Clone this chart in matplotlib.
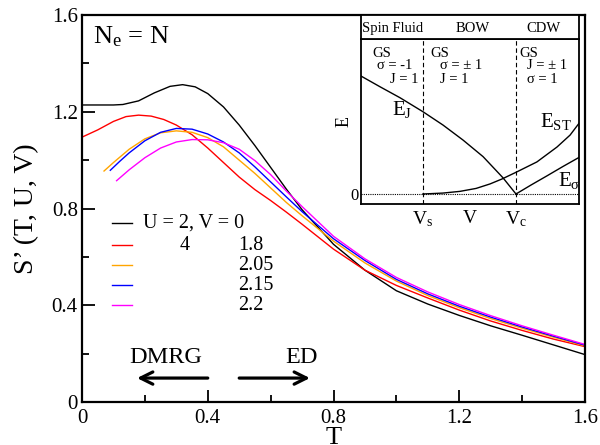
import matplotlib
matplotlib.use("Agg")
import matplotlib.pyplot as plt
from matplotlib.lines import Line2D
from matplotlib.ticker import MultipleLocator

plt.rcParams['font.family'] = ['Liberation Serif', 'DejaVu Serif']
plt.rcParams['mathtext.fontset'] = 'custom'
plt.rcParams['mathtext.rm'] = 'Liberation Serif'
plt.rcParams['mathtext.it'] = 'Liberation Serif:italic'

# ---------------- main data ----------------
T_black = [0, 0.05, 0.10, 0.13, 0.18, 0.23, 0.28, 0.32, 0.36, 0.40, 0.45, 0.50, 0.55, 0.60,
           0.65, 0.70, 0.80, 0.90, 1.0, 1.1, 1.2, 1.3, 1.4, 1.5, 1.6]
S_black = [1.228, 1.228, 1.228, 1.230, 1.245, 1.278, 1.305, 1.312, 1.303, 1.275, 1.220, 1.145,
           1.060, 0.970, 0.880, 0.795, 0.652, 0.545, 0.460, 0.405, 0.358, 0.315, 0.276, 0.236, 0.196]

T_red = [0, 0.05, 0.10, 0.14, 0.18, 0.22, 0.26, 0.30, 0.35, 0.40, 0.45, 0.50, 0.55, 0.60,
         0.65, 0.70, 0.80, 0.90, 1.0, 1.1, 1.2, 1.3, 1.4, 1.5, 1.6]
S_red = [1.095, 1.125, 1.160, 1.180, 1.186, 1.182, 1.168, 1.145, 1.105, 1.050, 0.990, 0.930,
         0.878, 0.833, 0.785, 0.735, 0.632, 0.545, 0.482, 0.430, 0.380, 0.335, 0.296, 0.260, 0.229]

T_orange = [0.07, 0.10, 0.15, 0.20, 0.25, 0.30, 0.35, 0.40, 0.45, 0.50, 0.55, 0.60, 0.65,
            0.70, 0.80, 0.90, 1.0, 1.1, 1.2, 1.3, 1.4, 1.5, 1.6]
S_orange = [0.955, 0.990, 1.045, 1.088, 1.113, 1.121, 1.115, 1.093, 1.055, 1.000, 0.945, 0.885,
            0.825, 0.770, 0.665, 0.575, 0.500, 0.440, 0.390, 0.345, 0.305, 0.268, 0.232]

T_blue = [0.09, 0.12, 0.15, 0.20, 0.25, 0.30, 0.35, 0.40, 0.45, 0.50, 0.55, 0.60, 0.65,
          0.70, 0.80, 0.90, 1.0, 1.1, 1.2, 1.3, 1.4, 1.5, 1.6]
S_blue = [0.958, 0.995, 1.030, 1.080, 1.115, 1.131, 1.128, 1.108, 1.075, 1.030, 0.972, 0.910,
          0.848, 0.787, 0.675, 0.585, 0.507, 0.447, 0.396, 0.351, 0.310, 0.272, 0.235]

T_magenta = [0.11, 0.15, 0.20, 0.25, 0.30, 0.35, 0.40, 0.45, 0.50, 0.55, 0.60, 0.65, 0.70,
             0.80, 0.90, 1.0, 1.1, 1.2, 1.3, 1.4, 1.5, 1.6]
S_magenta = [0.915, 0.960, 1.010, 1.050, 1.075, 1.085, 1.084, 1.072, 1.045, 0.998, 0.940, 0.872,
             0.808, 0.685, 0.592, 0.515, 0.455, 0.403, 0.357, 0.315, 0.276, 0.238]

U_values = [2, 4, 4, 4, 4]
V_values = ["0", "1.8", "2.05", "2.15", "2.2"]
colors = ["black", "#ff0000", "#ffa500", "#0000ff", "#ff00ff"]

x_ticks = [0, 0.4, 0.8, 1.2, 1.6]
x_ticklabels = ["0", "0.4", "0.8", "1.2", "1.6"]
y_ticks = [0, 0.4, 0.8, 1.2, 1.6]
y_ticklabels = ["0", "0.4", "0.8", "1.2", "1.6"]

# arrows (DMRG / ED)
dmrg_arrow = [0.40, 0.175]
ed_arrow = [0.50, 0.725]
arrow_y = 0.099

# ---------------- inset data ----------------
V_s, V_c = 0.284, 0.711
V_EJ = [0, 0.087, 0.179, 0.284, 0.376, 0.468, 0.560, 0.651, 0.711]
E_EJ = [0.761, 0.692, 0.621, 0.531, 0.445, 0.348, 0.241, 0.105, 0.0]
V_Esig = [0.711, 0.780, 0.853, 0.927, 1.0]
E_Esig = [0.0, 0.058, 0.117, 0.178, 0.236]
V_EST = [0.284, 0.376, 0.454, 0.528, 0.592, 0.647, 0.711, 0.807, 0.899, 0.959, 1.0]
E_EST = [0.0, 0.006, 0.017, 0.036, 0.065, 0.097, 0.140, 0.207, 0.303, 0.380, 0.456]

fig = plt.figure(figsize=(6, 4.45), dpi=100)
ax = fig.add_axes([0.1367, 0.0966, 0.8383, 0.8697])

series = [(T_black, S_black), (T_red, S_red), (T_orange, S_orange),
          (T_blue, S_blue), (T_magenta, S_magenta)]
for (t, s), c in zip(series, colors):
    ax.plot(t, s, color=c, lw=1.0)

ax.set_xlim(0, 1.6)
ax.set_ylim(0, 1.6)
ax.set_xticks(x_ticks)
ax.set_xticklabels(x_ticklabels)
ax.set_yticks(y_ticks)
ax.set_yticklabels(y_ticklabels)
ax.xaxis.set_minor_locator(MultipleLocator(0.2))
ax.yaxis.set_minor_locator(MultipleLocator(0.2))
ax.tick_params(which='both', direction='in', width=1.3, labelsize=15)
ax.tick_params(which='major', length=9)
ax.tick_params(which='minor', length=5)
ax.tick_params(axis='x', pad=5)
ax.tick_params(axis='y', pad=3)
for sp in ax.spines.values():
    sp.set_linewidth(1.6)

ax.set_xlabel("T", fontsize=19, labelpad=-1)
ax.set_ylabel("S\u2019 (T, U, V)", fontsize=20, labelpad=9)

ax.text(0.022, 0.975, r"N$_{\mathrm{e}}$ = N", transform=ax.transAxes, fontsize=19,
        ha='left', va='top')

# legend (manual)
rows_y = [0.4625, 0.405, 0.354, 0.302, 0.250]
for i, (c, u, v) in enumerate(zip(colors, U_values, V_values)):
    ax.add_line(Line2D([0.0596, 0.0994], [rows_y[i], rows_y[i]], color=c, lw=1.0,
                       transform=ax.transAxes))
    if i == 0:
        ax.text(0.121, rows_y[i], f"U = {u}, V = {v}", transform=ax.transAxes,
                fontsize=14.5, ha='left', va='center')
    else:
        if U_values[i] != U_values[i - 1]:
            ax.text(0.205, rows_y[i], f"{u}", transform=ax.transAxes,
                    fontsize=14.5, ha='center', va='center')
        ax.text(0.310, rows_y[i], v, transform=ax.transAxes,
                fontsize=14.5, ha='left', va='center')

# arrows
ax.annotate('', xy=(dmrg_arrow[1], arrow_y), xytext=(dmrg_arrow[0], arrow_y),
            arrowprops=dict(arrowstyle='->', lw=2.3, color='black', mutation_scale=22,
                            shrinkA=0, shrinkB=0))
ax.annotate('', xy=(ed_arrow[1], arrow_y), xytext=(ed_arrow[0], arrow_y),
            arrowprops=dict(arrowstyle='->', lw=2.3, color='black', mutation_scale=22,
                            shrinkA=0, shrinkB=0))
ax.text(0.266, 0.182, "DMRG", fontsize=17.5, ha='center', va='center')
ax.text(0.698, 0.182, "ED", fontsize=17.5, ha='center', va='center')

# ---------------- inset ----------------
L, R = 361 / 600, 579 / 600
inner_top, inner_bot = 39 / 445, 204 / 445
axi = fig.add_axes([L, 1 - inner_bot, R - L, inner_bot - inner_top])
axi.plot(V_EJ, E_EJ, color='black', lw=1.0)
axi.plot(V_Esig, E_Esig, color='black', lw=1.0)
axi.plot(V_EST, E_EST, color='black', lw=1.0)
axi.axhline(0, color='black', lw=0.8, ls=(0, (1, 1)))
axi.axvline(V_s, color='black', lw=0.8, ls=(0, (4, 2.5)))
axi.axvline(V_c, color='black', lw=0.8, ls=(0, (4, 2.5)))
axi.set_xlim(0, 1)
axi.set_ylim(-10 / 155, 1.0)
axi.set_xticks([V_s, (V_s + V_c) / 2, V_c])
axi.set_xticklabels([r"V$_{\mathrm{s}}$", "V", r"V$_{\mathrm{c}}$"], fontsize=14)
axi.set_yticks([0])
axi.set_yticklabels(["0"], fontsize=12)
axi.tick_params(length=0, pad=2)
axi.tick_params(axis='x', pad=4)
axi.set_ylabel("E", fontsize=13, labelpad=-2)
for sp in axi.spines.values():
    sp.set_linewidth(1.3)

fs_s = 10.5
inset_texts = [
    (0.050, 0.915, "GS"), (0.073, 0.842, "\u03c3 = -1"), (0.133, 0.752, "J = 1"),
    (0.316, 0.915, "GS"), (0.361, 0.842, "\u03c3 = \u00b1 1"), (0.361, 0.752, "J = 1"),
    (0.725, 0.915, "GS"), (0.761, 0.842, "J = \u00b1 1"), (0.761, 0.752, "\u03c3 = 1"),
]
for x, y, s in inset_texts:
    axi.text(x, y, s, transform=axi.transAxes, fontsize=fs_s, ha='left', va='center')

axi.text(0.142, 0.539, r"E$_{\mathrm{J}}$", transform=axi.transAxes, fontsize=15, ha='left', va='baseline')
axi.text(0.821, 0.467, r"E$_{\mathrm{ST}}$", transform=axi.transAxes, fontsize=15, ha='left', va='baseline')
axi.text(0.904, 0.109, r"E$_{\mathrm{\sigma}}$", transform=axi.transAxes, fontsize=15, ha='left', va='baseline')

# header
axh = fig.add_axes([L, 1 - inner_top, R - L, inner_top - 15 / 445])
axh.set_xticks([])
axh.set_yticks([])
for sp in axh.spines.values():
    sp.set_linewidth(1.3)
axh.text(0.147, 0.45, "Spin Fluid", transform=axh.transAxes, fontsize=10.5, ha='center', va='center')
axh.text(0.514, 0.45, "BOW", transform=axh.transAxes, fontsize=10.5, ha='center', va='center')
axh.text(0.839, 0.45, "CDW", transform=axh.transAxes, fontsize=10.5, ha='center', va='center')

fig.savefig("out.png", dpi=100)
